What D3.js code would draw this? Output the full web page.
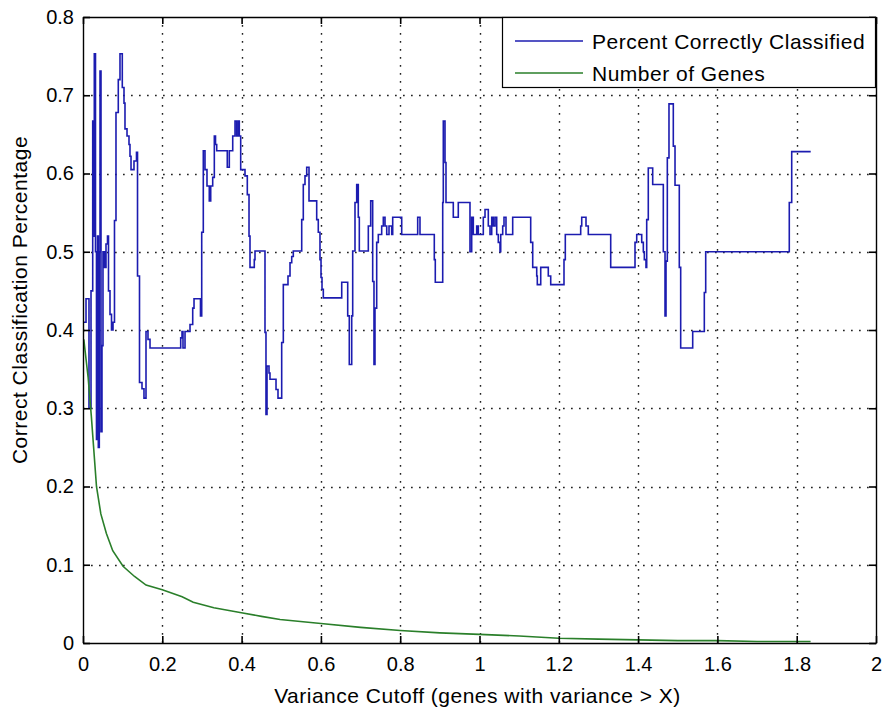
<!DOCTYPE html>
<html>
<head>
<meta charset="utf-8">
<script src="https://cdn.jsdelivr.net/npm/d3@7/dist/d3.min.js"></script>
<style>
  body { margin: 0; background: #fff; }
  text { font-family: "Liberation Sans", Arial, Helvetica, sans-serif; fill: #000; }
</style>
</head>
<body>
<svg id="chart" width="884" height="710"></svg>
<script>
// Axis ticks
const xTicks = [0, 0.2, 0.4, 0.6, 0.8, 1, 1.2, 1.4, 1.6, 1.8, 2];
const yTicks = [0, 0.1, 0.2, 0.3, 0.4, 0.5, 0.6, 0.7, 0.8];

// Classification accuracy versus variance cutoff (value holds until the next cutoff)
const cutoffPct = [
  0.0025, 0.0076, 0.0151, 0.0202, 0.0245, 0.0265, 0.0285, 0.0315, 0.0340, 0.0366,
  0.0386, 0.0411, 0.0429, 0.0454, 0.0479, 0.0504, 0.0542, 0.0580, 0.0618, 0.0643,
  0.0681, 0.0719, 0.0757, 0.0794, 0.0832, 0.0890, 0.0933, 0.0991, 0.1034, 0.1059,
  0.1110, 0.1160, 0.1185, 0.1211, 0.1286, 0.1349, 0.1375, 0.1425, 0.1488, 0.1538,
  0.1589, 0.1639, 0.1690, 0.2464, 0.2497, 0.2522, 0.2573, 0.2699, 0.2767, 0.2800,
  0.2963, 0.2994, 0.3034, 0.3077, 0.3127, 0.3185, 0.3221, 0.3271, 0.3312, 0.3342,
  0.3372, 0.3639, 0.3690, 0.3776, 0.3834, 0.3876, 0.3917, 0.3942, 0.3977, 0.4086,
  0.4144, 0.4187, 0.4212, 0.4320, 0.4338, 0.4590, 0.4615, 0.4641, 0.4691, 0.4716,
  0.4868, 0.4918, 0.5011, 0.5052, 0.5170, 0.5221, 0.5264, 0.5304, 0.5516, 0.5556,
  0.5599, 0.5642, 0.5700, 0.5894, 0.5934, 0.5977, 0.6003, 0.6028, 0.6061, 0.6525,
  0.6676, 0.6716, 0.6777, 0.6802, 0.6860, 0.6903, 0.6943, 0.6969, 0.7196, 0.7256,
  0.7306, 0.7339, 0.7364, 0.7407, 0.7448, 0.7533, 0.7574, 0.7617, 0.7660, 0.7718,
  0.7786, 0.7811, 0.8038, 0.8441, 0.8499, 0.8860, 0.8885, 0.9072, 0.9087, 0.9130,
  0.9155, 0.9339, 0.9465, 0.9760, 0.9803, 0.9844, 0.9929, 0.9970, 1.0096, 1.0139,
  1.0222, 1.0265, 1.0308, 1.0348, 1.0391, 1.0434, 1.0474, 1.0517, 1.0535, 1.0585,
  1.0618, 1.0668, 1.0837, 1.1291, 1.1342, 1.1443, 1.1458, 1.1544, 1.1735, 1.1796,
  1.2131, 1.2164, 1.2552, 1.2578, 1.2686, 1.2744, 1.3309, 1.3922, 1.3965, 1.4091,
  1.4132, 1.4157, 1.4199, 1.4217, 1.4257, 1.4368, 1.4636, 1.4679, 1.4704, 1.4737,
  1.4779, 1.4888, 1.4931, 1.5039, 1.5074, 1.5377, 1.5670, 1.5705, 1.7813, 1.7874,
  1.8353
];
const pctCorrect = [
  0.410, 0.440, 0.300, 0.450, 0.667, 0.520, 0.753, 0.500, 0.260, 0.520,
  0.250, 0.500, 0.731, 0.270, 0.380, 0.500, 0.480, 0.510, 0.520, 0.450,
  0.420, 0.400, 0.410, 0.540, 0.678, 0.720, 0.753, 0.710, 0.690, 0.657,
  0.648, 0.637, 0.622, 0.605, 0.616, 0.627, 0.469, 0.333, 0.325, 0.313,
  0.398, 0.388, 0.377, 0.390, 0.398, 0.377, 0.398, 0.407, 0.428, 0.440,
  0.418, 0.525, 0.629, 0.605, 0.584, 0.565, 0.584, 0.595, 0.648, 0.637,
  0.629, 0.608, 0.629, 0.648, 0.667, 0.648, 0.667, 0.648, 0.605, 0.597,
  0.573, 0.520, 0.480, 0.490, 0.501, 0.397, 0.292, 0.354, 0.345, 0.337,
  0.324, 0.313, 0.384, 0.458, 0.469, 0.486, 0.494, 0.501, 0.541, 0.586,
  0.597, 0.608, 0.565, 0.541, 0.525, 0.490, 0.467, 0.452, 0.441, 0.461,
  0.418, 0.356, 0.418, 0.501, 0.563, 0.586, 0.544, 0.501, 0.533, 0.565,
  0.462, 0.356, 0.428, 0.512, 0.522, 0.533, 0.544, 0.533, 0.522, 0.533,
  0.522, 0.544, 0.522, 0.544, 0.522, 0.490, 0.461, 0.563, 0.667, 0.614,
  0.563, 0.544, 0.563, 0.500, 0.544, 0.522, 0.533, 0.522, 0.544, 0.554,
  0.533, 0.522, 0.544, 0.533, 0.544, 0.522, 0.512, 0.500, 0.522, 0.533,
  0.544, 0.522, 0.544, 0.512, 0.480, 0.469, 0.458, 0.480, 0.469, 0.458,
  0.490, 0.522, 0.533, 0.544, 0.533, 0.522, 0.480, 0.512, 0.522, 0.512,
  0.500, 0.490, 0.480, 0.541, 0.607, 0.586, 0.500, 0.418, 0.488, 0.620,
  0.689, 0.635, 0.585, 0.480, 0.377, 0.398, 0.448, 0.500, 0.563, 0.628,
  0.628
];

// Fraction of genes retained above each cutoff
const cutoffGenes = [
  0.002, 0.013, 0.021, 0.034, 0.045, 0.059, 0.075, 0.101, 0.130, 0.159,
  0.200, 0.250, 0.278, 0.330, 0.396, 0.450, 0.497, 0.600, 0.700, 0.800,
  0.900, 1.000, 1.100, 1.200, 1.300, 1.400, 1.500, 1.600, 1.700, 1.835
];
const geneFraction = [
  0.388, 0.339, 0.290, 0.200, 0.165, 0.140, 0.118, 0.098, 0.085, 0.074,
  0.068, 0.059, 0.052, 0.045, 0.039, 0.034, 0.030, 0.025, 0.020, 0.016,
  0.013, 0.011, 0.009, 0.006, 0.005, 0.004, 0.003, 0.003, 0.002, 0.002
];

const seriesNames = ["Percent Correctly Classified", "Number of Genes"];

const svg = d3.select("#chart");
const plotL = 83, plotR = 876, plotT = 17, plotB = 643;
const x = d3.scaleLinear().domain([0, 2]).range([plotL, plotR]);
const y = d3.scaleLinear().domain([0, 0.8]).range([plotB, plotT]);
const blue = "#1c1cb0", green = "#2a7f2a";
const tickFont = 20, labelFont = 21, labelSpacing = "0.5px";

svg.append("rect").attr("width", 884).attr("height", 710).attr("fill", "#fff");

// Dotted grid
const grid = svg.append("g").attr("stroke", "#222").attr("stroke-width", 1.4)
  .attr("stroke-dasharray", "1.7,6.3");
grid.selectAll("line.v").data(xTicks.slice(1, -1)).join("line")
  .attr("x1", d => Math.round(x(d)) + 0.5).attr("x2", d => Math.round(x(d)) + 0.5)
  .attr("y1", plotT).attr("y2", plotB);
grid.selectAll("line.h").data(yTicks.slice(1, -1)).join("line")
  .attr("y1", d => Math.round(y(d)) + 0.5).attr("y2", d => Math.round(y(d)) + 0.5)
  .attr("x1", plotL).attr("x2", plotR);

// Data lines
const stepLine = d3.line().x(d => x(d[0])).y(d => y(d[1])).curve(d3.curveStepAfter);
svg.append("path")
  .datum(d3.zip(cutoffPct, pctCorrect))
  .attr("d", stepLine).attr("fill", "none").attr("stroke", blue)
  .attr("stroke-width", 1.6).attr("stroke-linejoin", "miter");

const plainLine = d3.line().x(d => x(d[0])).y(d => y(d[1]));
svg.append("path")
  .datum(d3.zip(cutoffGenes, geneFraction))
  .attr("d", plainLine).attr("fill", "none").attr("stroke", green)
  .attr("stroke-width", 1.6);

// Axes with inward ticks on all four sides
const fmt = d3.format("~g");
function styleAxis(g) {
  g.select(".domain").attr("stroke", "#000").attr("stroke-width", 1.4);
  g.selectAll(".tick line").attr("stroke", "#000").attr("stroke-width", 1.6);
  g.selectAll("text").attr("font-size", tickFont).attr("font-family", null).attr("fill", "#000");
}
svg.append("g").attr("transform", `translate(0,${plotB})`)
  .call(d3.axisBottom(x).tickValues(xTicks).tickFormat(fmt).tickSizeInner(-7).tickSizeOuter(0).tickPadding(14))
  .call(styleAxis);
svg.append("g").attr("transform", `translate(0,${plotT})`)
  .call(d3.axisTop(x).tickValues(xTicks).tickFormat("").tickSizeInner(-7).tickSizeOuter(0))
  .call(styleAxis);
svg.append("g").attr("transform", `translate(${plotL},0)`)
  .call(d3.axisLeft(y).tickValues(yTicks).tickFormat(fmt).tickSizeInner(-7).tickSizeOuter(0).tickPadding(9))
  .call(styleAxis);
svg.append("g").attr("transform", `translate(${plotR},0)`)
  .call(d3.axisRight(y).tickValues(yTicks).tickFormat("").tickSizeInner(-7).tickSizeOuter(0))
  .call(styleAxis);

// Axis titles
svg.append("text").attr("x", (plotL + plotR) / 2 - 2).attr("y", 703)
  .attr("text-anchor", "middle").attr("font-size", labelFont).attr("letter-spacing", labelSpacing)
  .text("Variance Cutoff (genes with variance > X)");
svg.append("text").attr("transform", "translate(27,300) rotate(-90)")
  .attr("text-anchor", "middle").attr("font-size", labelFont).attr("letter-spacing", labelSpacing)
  .text("Correct Classification Percentage");

// Legend
const legend = svg.append("g");
legend.append("rect").attr("x", 502.5).attr("y", 17.5).attr("width", 373).attr("height", 70)
  .attr("fill", "#fff").attr("stroke", "#000").attr("stroke-width", 1.2);
[blue, green].forEach((c, i) => {
  const cy = 41 + i * 32;
  legend.append("line").attr("x1", 515).attr("x2", 583).attr("y1", cy).attr("y2", cy)
    .attr("stroke", c).attr("stroke-width", 1.5);
  legend.append("text").attr("x", 592).attr("y", cy).attr("dy", "0.36em")
    .attr("font-size", labelFont).attr("letter-spacing", labelSpacing).text(seriesNames[i]);
});
</script>
</body>
</html>
